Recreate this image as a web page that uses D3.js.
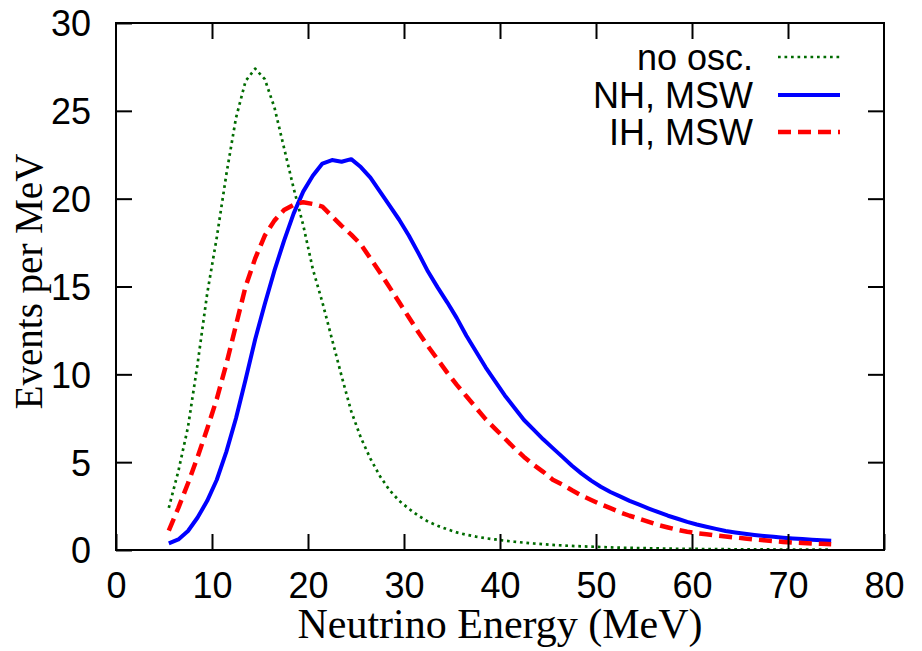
<!DOCTYPE html>
<html>
<head>
<meta charset="utf-8">
<script src="https://cdn.jsdelivr.net/npm/d3@7"></script>
<style>
  body { margin: 0; background: #fff; }
  svg { display: block; }
</style>
</head>
<body>
<svg id="chart" width="922" height="651"></svg>
<script>
// energies at bin centres, MeV
const energy = d3.range(5.5, 75, 1);

// events per MeV
const noOsc = [
  2.4, 4.5, 7.0, 10.6, 14.6, 17.8, 21.4, 24.6, 26.7, 27.4,
  26.8, 25.2, 22.9, 20.6, 18.5, 16.0, 14.1, 12.0, 9.9, 7.9,
  6.4, 5.2, 4.2, 3.4, 2.8, 2.35, 1.95, 1.62, 1.38, 1.18,
  1.0, 0.87, 0.76, 0.67, 0.6, 0.53, 0.47, 0.42, 0.37, 0.33,
  0.29, 0.26, 0.23, 0.21, 0.19, 0.17, 0.15, 0.13, 0.12, 0.11,
  0.10, 0.09, 0.08, 0.07, 0.065, 0.06, 0.055, 0.05, 0.046, 0.042,
  0.039, 0.036, 0.033, 0.03, 0.028, 0.026, 0.024, 0.022, 0.02, 0.018
];
const nhMsw = [
  0.38, 0.6, 1.08, 1.85, 2.8, 4.0, 5.6, 7.5, 9.7, 12.0,
  14.0, 15.9, 17.6, 19.15, 20.4, 21.3, 22.0, 22.2, 22.1, 22.25,
  21.8, 21.2, 20.4, 19.6, 18.8, 17.9, 16.9, 15.85, 14.95, 14.1,
  13.2, 12.2, 11.3, 10.4, 9.6, 8.8, 8.1, 7.4, 6.85, 6.3,
  5.8, 5.3, 4.8, 4.35, 3.95, 3.6, 3.3, 3.05, 2.8, 2.58,
  2.36, 2.15, 1.95, 1.78, 1.6, 1.45, 1.32, 1.2, 1.08, 1.0,
  0.93, 0.86, 0.8, 0.75, 0.7, 0.66, 0.62, 0.59, 0.56, 0.53
];
const ihMsw = [
  1.1, 2.4, 3.8, 5.3, 6.9, 8.6, 10.6, 12.8, 15.0, 16.6,
  17.9, 18.75, 19.35, 19.65, 19.8, 19.7, 19.55, 19.0, 18.45, 17.95,
  17.4, 16.6, 15.8, 14.95, 14.1, 13.25, 12.4, 11.6, 10.85, 10.1,
  9.4, 8.75, 8.1, 7.45, 6.9, 6.35, 5.8, 5.3, 4.85, 4.45,
  4.0, 3.72, 3.4, 3.1, 2.85, 2.6, 2.38, 2.15, 1.95, 1.78,
  1.6, 1.42, 1.28, 1.15, 1.04, 0.96, 0.9, 0.83, 0.77, 0.71,
  0.66, 0.6, 0.55, 0.51, 0.46, 0.42, 0.4, 0.37, 0.35, 0.33
];

const xTicks = [0, 10, 20, 30, 40, 50, 60, 70, 80];
const yTicks = [0, 5, 10, 15, 20, 25, 30];

const seriesNames = ['no osc.', 'NH, MSW', 'IH, MSW'];
const seriesValues = [noOsc, nhMsw, ihMsw];
const seriesStyle = [
  { color: '#006b00', width: 2.7, dash: '2.7,3.8' },
  { color: '#0000ff', width: 4, dash: null },
  { color: '#ff0000', width: 4.5, dash: '13,7' }
];

const margin = { left: 116, right: 38, top: 23, bottom: 101 };
const width = 922, height = 651;

const svg = d3.select('#chart');

const x = d3.scaleLinear().domain([0, 80]).range([margin.left, width - margin.right]);
const y = d3.scaleLinear().domain([0, 30]).range([height - margin.bottom, margin.top]);

const sans = '"Liberation Sans", Arial, Helvetica, sans-serif';
const serif = '"Liberation Serif", "Times New Roman", serif';
const tickLen = 16;

// curves
const line = d3.line()
  .x((d, i) => x(energy[i]))
  .y(d => y(d));

svg.append('g')
  .selectAll('path')
  .data(seriesValues)
  .join('path')
  .attr('d', d => line(d))
  .attr('fill', 'none')
  .attr('stroke', (d, i) => seriesStyle[i].color)
  .attr('stroke-width', (d, i) => seriesStyle[i].width)
  .attr('stroke-dasharray', (d, i) => seriesStyle[i].dash)
  .attr('stroke-linejoin', 'round');

// axes, ticks pointing inward and mirrored
const xBottom = d3.axisBottom(x).tickValues(xTicks).tickSize(-tickLen).tickPadding(24).tickFormat(d3.format('d'));
const xTop = d3.axisTop(x).tickValues(xTicks.slice(1, -1)).tickSize(-tickLen).tickFormat('');
const yLeft = d3.axisLeft(y).tickValues(yTicks).tickSize(-tickLen).tickPadding(25).tickFormat(d3.format('d'));
const yRight = d3.axisRight(y).tickValues(yTicks.slice(1, -1)).tickSize(-tickLen).tickFormat('');

function styleAxis(g) {
  g.select('.domain').remove();
  g.selectAll('line').attr('stroke', '#000').attr('stroke-width', 2);
  g.selectAll('text').attr('fill', '#000').style('font-family', sans).style('font-size', '36px');
}

svg.append('g').attr('transform', `translate(0,${y(0)})`).call(xBottom).call(styleAxis)
  .selectAll('text').attr('dy', '0.68em');
svg.append('g').attr('transform', `translate(0,${y(30)})`).call(xTop).call(styleAxis);
svg.append('g').attr('transform', `translate(${x(0)},0)`).call(yLeft).call(styleAxis)
  .selectAll('text').attr('dy', '0.36em');
svg.append('g').attr('transform', `translate(${x(80)},0)`).call(yRight).call(styleAxis);

// frame
svg.append('rect')
  .attr('x', x(0)).attr('y', y(30))
  .attr('width', x(80) - x(0)).attr('height', y(0) - y(30))
  .attr('fill', 'none').attr('stroke', '#000').attr('stroke-width', 2);

// axis titles
svg.append('text')
  .attr('x', (x(0) + x(80)) / 2)
  .attr('y', 638)
  .attr('text-anchor', 'middle')
  .style('font-family', serif).style('font-size', '42px')
  .text('Neutrino Energy (MeV)');

svg.append('text')
  .attr('transform', `translate(42,${(y(0) + y(30)) / 2 - 5}) rotate(-90)`)
  .attr('text-anchor', 'middle')
  .style('font-family', serif).style('font-size', '39px')
  .text('Events per MeV');

// legend
const legend = svg.append('g');
const rowY = [57, 95, 132];
seriesNames.forEach((name, i) => {
  legend.append('text')
    .attr('x', 753).attr('y', rowY[i]).attr('dy', '0.36em')
    .attr('text-anchor', 'end')
    .style('font-family', sans).style('font-size', '36px')
    .text(name);
  legend.append('line')
    .attr('x1', 778).attr('x2', 840)
    .attr('y1', rowY[i]).attr('y2', rowY[i])
    .attr('stroke', seriesStyle[i].color)
    .attr('stroke-width', seriesStyle[i].width)
    .attr('stroke-dasharray', seriesStyle[i].dash);
});
</script>
</body>
</html>
